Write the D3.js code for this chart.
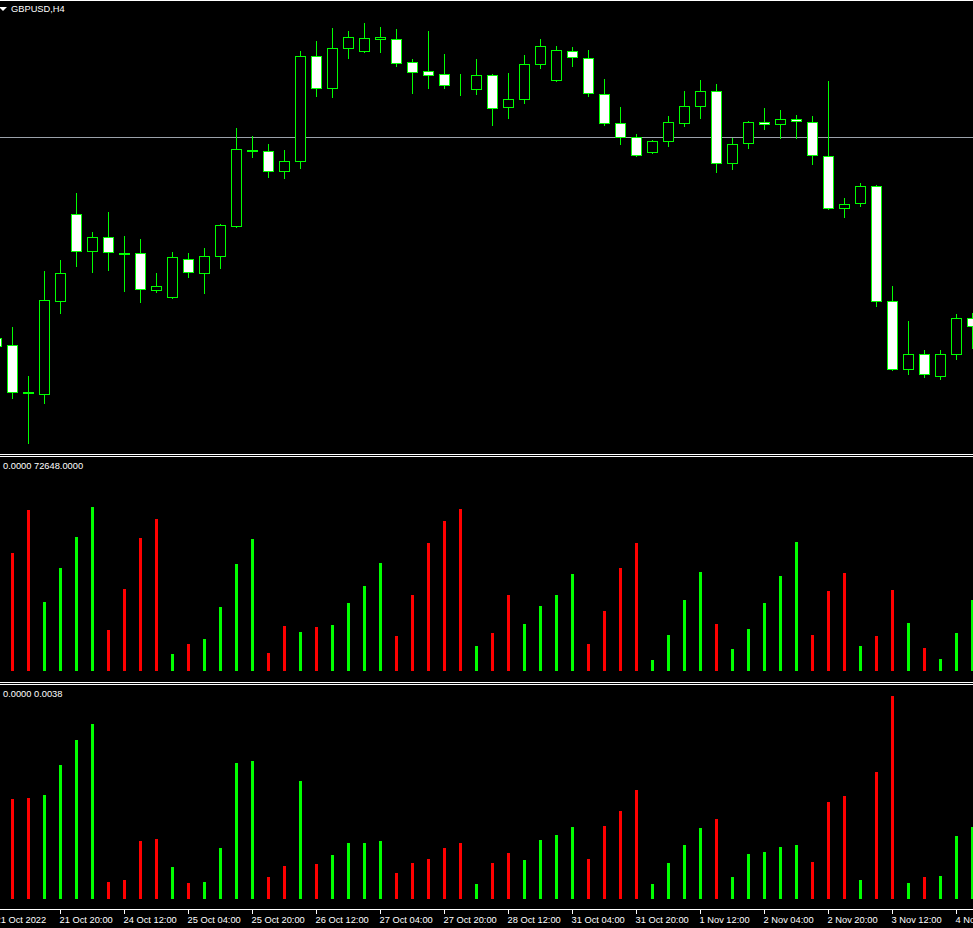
<!DOCTYPE html>
<html><head><meta charset="utf-8">
<script src="https://cdn.jsdelivr.net/npm/d3@7"></script>
<style>html,body{margin:0;padding:0;background:#000;overflow:hidden}</style>
</head><body>
<svg id="c" width="973" height="928"></svg>
<script>
// ---------- DATA ----------
const symbolLabel = "GBPUSD,H4";
// bar index -1 .. 60 (H4 bars, 21 Oct 2022 04:00 .. 4 Nov 2022 12:00)
const barIndex = d3.range(-1, 61);
const open = [1.11054,1.10935,1.10136,1.10102,1.11683,1.13162,1.12533,1.12771,1.12499,1.12499,1.11870,
  1.11751,1.12397,1.12159,1.12448,1.12958,1.14250,1.14233,1.13893,1.14063,1.15848,
  1.15304,1.15984,1.15933,1.16137,1.16137,1.15746,1.15593,1.15542,1.15287,1.15287,
  1.15525,1.14981,1.15117,1.15712,1.15440,1.15933,1.15814,1.15202,1.14709,1.14471,
  1.14216,1.14403,1.14709,1.14998,1.15253,1.14029,1.14369,1.14718,1.14692,1.14769,
  1.14726,1.14148,1.13264,1.13349,1.13638,1.11683,1.10527,1.10782,1.10408,1.10782,1.11386];
const high = [1.11088,1.11241,1.10408,1.12193,1.12380,1.13519,1.12856,1.13196,1.12788,1.12737,1.12159,
  1.12516,1.12499,1.12584,1.12992,1.14624,1.14488,1.14352,1.14250,1.15933,1.16103,
  1.16324,1.16273,1.16409,1.16341,1.16307,1.15797,1.16273,1.15882,1.15542,1.15797,
  1.15542,1.15559,1.15865,1.16137,1.16018,1.16001,1.15950,1.15457,1.14981,1.14522,
  1.14420,1.14828,1.15253,1.15440,1.15372,1.14454,1.14743,1.14964,1.14930,1.14845,
  1.14828,1.15423,1.13434,1.13689,1.13655,1.11938,1.11343,1.10850,1.10850,1.11462,1.11479];
const low = [1.10867,1.10034,1.09269,1.09949,1.11479,1.12278,1.12176,1.12210,1.11853,1.11666,1.11836,
  1.11734,1.12091,1.11819,1.12244,1.12941,1.14131,1.13791,1.13774,1.13944,1.15168,
  1.15151,1.15814,1.15916,1.15916,1.15678,1.15219,1.15304,1.15304,1.15185,1.15202,
  1.14675,1.14794,1.15049,1.15644,1.15423,1.15678,1.15168,1.14675,1.14352,1.14148,
  1.14199,1.14318,1.14658,1.14794,1.13876,1.13927,1.14284,1.14607,1.14454,1.14454,
  1.14012,1.13247,1.13111,1.13298,1.11598,1.10510,1.10442,1.10391,1.10357,1.10697,1.10884];
const close = [1.10918,1.10136,1.10119,1.11700,1.12159,1.12533,1.12771,1.12516,1.12482,1.11887,1.11938,
  1.12431,1.12176,1.12448,1.12975,1.14267,1.14233,1.13893,1.14063,1.15848,1.15304,
  1.15984,1.16171,1.16154,1.16163,1.15729,1.15576,1.15525,1.15355,1.15279,1.15525,
  1.14964,1.15117,1.15712,1.16018,1.15950,1.15831,1.15219,1.14709,1.14471,1.14165,
  1.14403,1.14726,1.14998,1.15253,1.14029,1.14352,1.14726,1.14692,1.14777,1.14743,
  1.14165,1.13264,1.13332,1.13638,1.11683,1.10527,1.10782,1.10442,1.10782,1.11394,1.11258];
const volume = [72648,41970,57310,24500,36620,47570,58380,14510,29130,47210,53990,
  5960,9520,11550,22720,38050,46960,6310,15940,13800,15580,
  16300,24140,30200,38300,12370,27000,45540,53380,57660,8810,
  13440,27240,16650,23070,27240,34380,9520,21540,36620,45540,
  4070,12730,25210,35090,16650,7740,14870,24140,33770,45890,
  12730,28420,34840,8810,12370,28780,17010,8100,4420,13440,25210];
const indicator = [0.00200,0.00187,0.00189,0.00194,0.00250,0.00297,0.00327,0.00032,0.00036,0.00108,0.00112,
  0.00060,0.00030,0.00032,0.00095,0.00254,0.00258,0.00041,0.00062,0.00221,0.00065,
  0.00082,0.00105,0.00105,0.00108,0.00049,0.00067,0.00075,0.00095,0.00105,0.00028,
  0.00067,0.00086,0.00073,0.00110,0.00120,0.00135,0.00075,0.00136,0.00164,0.00204,
  0.00028,0.00067,0.00101,0.00133,0.00150,0.00041,0.00084,0.00088,0.00097,0.00101,
  0.00069,0.00181,0.00193,0.00036,0.00237,0.00380,0.00030,0.00041,0.00043,0.00118,0.00135];
// histogram colour flag per bar (U = green, D = red)
const histDir = ["D",
  "D","D","U","U","U","U","D","D","D","D",
  "U","D","U","U","U","U","D","D","U","D",
  "U","U","U","U","D","D","D","D","D","U",
  "D","D","U","U","U","U","D","D","D","D",
  "U","U","U","U","D","U","U","U","U","U",
  "D","D","D","U","D","D","U","D","U","U",
  "U"];
const tickBars = [-1,3,7,11,15,19,23,27,31,35,39,43,47,51,55,59];
const tickLabels = ["21 Oct 2022","21 Oct 20:00","24 Oct 12:00","25 Oct 04:00","25 Oct 20:00",
  "26 Oct 12:00","27 Oct 04:00","27 Oct 20:00","28 Oct 12:00","31 Oct 04:00","31 Oct 20:00",
  "1 Nov 12:00","2 Nov 04:00","2 Nov 20:00","3 Nov 12:00","4 Nov 04:00"];
const bidLevel = 1.14471;
const volMax = 72648, volLabel = "0.0000 72648.0000";
const indMax = 0.0038, indLabel = "0.0000 0.0038";

// ---------- DRAW ----------
const W = 973, H = 928;
const GREEN = "#00ff00", RED = "#ff0000", FONT = "'Liberation Sans', Arial, sans-serif";
const svg = d3.select("#c");
svg.append("rect").attr("width", W).attr("height", H).attr("fill", "#000");

const x = d3.scaleLinear().domain([0, 60]).range([12, 972]);
const yP = d3.scaleLinear().domain([1.09, 1.17]).range([458.82, -11.76]);
const yV = d3.scaleLinear().domain([0, volMax]).range([671, 467]);
const yI = d3.scaleLinear().domain([0, indMax]).range([899, 696]);

const bars = barIndex.map((b, k) => ({b, o: open[k], h: high[k], l: low[k], c: close[k],
  v: volume[k], ind: indicator[k], dir: histDir[k]}));

// main panel
const main = svg.append("g");
main.append("line").attr("x1", 0).attr("x2", W)
  .attr("y1", Math.round(yP(bidLevel)) + 0.5).attr("y2", Math.round(yP(bidLevel)) + 0.5)
  .attr("stroke", "#9ba2aa").attr("stroke-width", 1).attr("shape-rendering", "crispEdges");

const cg = main.selectAll("g.candle").data(bars).join("g").attr("class", "candle")
  .attr("shape-rendering", "crispEdges");
cg.append("line")
  .attr("x1", d => Math.round(x(d.b)) + 0.5).attr("x2", d => Math.round(x(d.b)) + 0.5)
  .attr("y1", d => Math.round(yP(d.h))).attr("y2", d => Math.round(yP(d.l)) + 1)
  .attr("stroke", GREEN);
cg.append("rect")
  .attr("x", d => Math.round(x(d.b)) - 4.5).attr("width", 10)
  .attr("y", d => Math.round(yP(Math.max(d.o, d.c))) + 0.5)
  .attr("height", d => Math.max(0, Math.round(yP(Math.min(d.o, d.c))) - Math.round(yP(Math.max(d.o, d.c)))))
  .attr("fill", d => d.c >= d.o ? "#000" : "#fff")
  .attr("stroke", GREEN);

// symbol label
svg.append("path").attr("d", "M-1,7 L7,7 L3,11 Z").attr("fill", "#fff");
svg.append("text").attr("x", 11).attr("y", 12).text(symbolLabel)
  .attr("fill", "#fff").attr("font-family", FONT).attr("font-size", "9.3px");

// separators
const sep = [0, 454, 456, 682, 684, 909];
svg.selectAll("line.sep").data(sep).join("line").attr("class", "sep")
  .attr("x1", 0).attr("x2", W).attr("y1", d => d + 0.5).attr("y2", d => d + 0.5)
  .attr("stroke", "#fff").attr("shape-rendering", "crispEdges");

// volume panel
svg.append("g").selectAll("rect").data(bars).join("rect")
  .attr("x", d => Math.round(x(d.b)) - 1).attr("width", 3)
  .attr("y", d => Math.round(yV(d.v))).attr("height", d => yV(0) - Math.round(yV(d.v)))
  .attr("fill", d => d.dir === "U" ? GREEN : RED).attr("shape-rendering", "crispEdges");
svg.append("text").attr("x", 3).attr("y", 469).text(volLabel)
  .attr("fill", "#fff").attr("font-family", FONT).attr("font-size", "9.3px");

// indicator panel
svg.append("g").selectAll("rect").data(bars).join("rect")
  .attr("x", d => Math.round(x(d.b)) - 1).attr("width", 3)
  .attr("y", d => Math.round(yI(d.ind))).attr("height", d => yI(0) - Math.round(yI(d.ind)))
  .attr("fill", d => d.dir === "U" ? GREEN : RED).attr("shape-rendering", "crispEdges");
svg.append("text").attr("x", 3).attr("y", 697).text(indLabel)
  .attr("fill", "#fff").attr("font-family", FONT).attr("font-size", "9.3px");

// time axis
const ticks = tickBars.map((b, k) => ({b, label: tickLabels[k]}));
const ax = svg.append("g");
ax.selectAll("line").data(ticks).join("line")
  .attr("x1", d => Math.round(x(d.b)) + 0.5).attr("x2", d => Math.round(x(d.b)) + 0.5)
  .attr("y1", 910).attr("y2", 914).attr("stroke", "#fff").attr("shape-rendering", "crispEdges");
ax.selectAll("text").data(ticks).join("text")
  .attr("x", d => Math.round(x(d.b)) - 0.5).attr("y", 923)
  .text(d => d.label).attr("fill", "#fff").attr("font-family", FONT).attr("font-size", "9.3px");
</script>
</body></html>
